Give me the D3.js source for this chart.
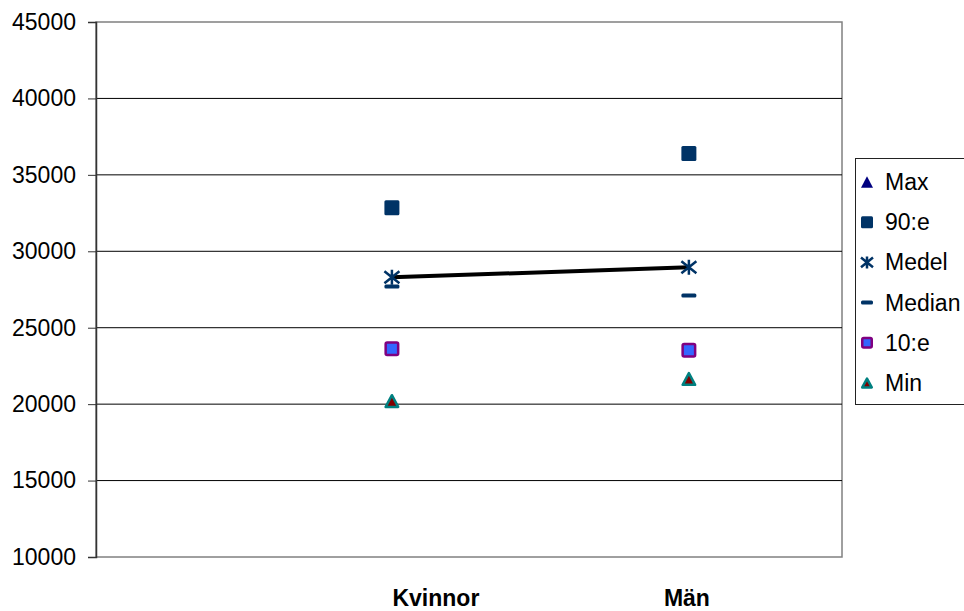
<!DOCTYPE html>
<html>
<head>
<meta charset="utf-8">
<script src="https://cdn.jsdelivr.net/npm/d3@7"></script>
<style>
  body { margin: 0; background: #fff; }
  svg { display: block; font-family: Arial, "Liberation Sans", sans-serif; }
</style>
</head>
<body>
<svg id="chart" width="964" height="611"></svg>
<script>
// data
const categories = ["Kvinnor", "Män"];
const maxVals = [null, null];           // not visible in the chart
const p90Vals = [32850, 36400];
const medelVals = [28300, 28950];
const medianVals = [27700, 27100];
const p10Vals = [23620, 23520];
const minVals = [20200, 21650];
const yTicks = [10000, 15000, 20000, 25000, 30000, 35000, 40000, 45000];

const series = [
  { name: "Max", values: maxVals, shape: "triangle", fill: "#000080", stroke: "#000080" },
  { name: "90:e", values: p90Vals, shape: "square", fill: "#003366", stroke: "#003366" },
  { name: "Medel", values: medelVals, shape: "star", fill: "none", stroke: "#003366" },
  { name: "Median", values: medianVals, shape: "dash", fill: "#003366", stroke: "none" },
  { name: "10:e", values: p10Vals, shape: "square", fill: "#3366ff", stroke: "#800080" },
  { name: "Min", values: minVals, shape: "triangle", fill: "#800000", stroke: "#008080" }
];

const svg = d3.select("#chart");
const plot = { left: 96, right: 842, top: 22, bottom: 557 };
const fontSize = 23;

const y = d3.scaleLinear().domain([10000, 45000]).range([plot.bottom, plot.top]);
const x = d3.scalePoint().domain(categories)
  .range([plot.left, plot.right]).padding(0.756).align(0.659);

// plot frame
svg.append("rect")
  .attr("x", plot.left).attr("y", plot.top)
  .attr("width", plot.right - plot.left).attr("height", plot.bottom - plot.top)
  .attr("fill", "none").attr("stroke", "#808080").attr("stroke-width", 1.5);

// gridlines
svg.append("g").selectAll("line")
  .data(yTicks.slice(1, -1))
  .join("line")
  .attr("x1", plot.left).attr("x2", plot.right)
  .attr("y1", d => y(d)).attr("y2", d => y(d))
  .attr("stroke", "#000").attr("stroke-width", 1);

// y axis
const yAxis = svg.append("g")
  .attr("transform", `translate(${plot.left},0)`)
  .call(d3.axisLeft(y).tickValues(yTicks).tickSize(8).tickPadding(12).tickFormat(d3.format("d")));
yAxis.select(".domain").attr("stroke", "#333").attr("stroke-width", 1.5);
yAxis.selectAll(".tick line").attr("stroke", "#333");
yAxis.selectAll("text").attr("font-size", fontSize).attr("fill", "#000")
  .attr("font-family", "Arial, 'Liberation Sans', sans-serif");

// category labels
const labelShift = { "Kvinnor": 44, "Män": -2 };
svg.append("g").selectAll("text")
  .data(categories)
  .join("text")
  .attr("x", d => x(d) + labelShift[d])
  .attr("y", 606)
  .attr("text-anchor", "middle")
  .attr("font-size", fontSize).attr("font-weight", "bold")
  .text(d => d);

// line through Medel
const line = d3.line().x((d, i) => x(categories[i])).y(d => y(d));
svg.append("path")
  .datum(medelVals)
  .attr("d", line)
  .attr("fill", "none").attr("stroke", "#000").attr("stroke-width", 4);

function drawMarker(g, shape, fill, stroke, s) {
  if (shape === "square") {
    const sw = stroke === fill ? 0 : 2.5;
    g.append("rect")
      .attr("x", -s / 2 + sw / 2).attr("y", -s / 2 + sw / 2)
      .attr("width", s - sw).attr("height", s - sw)
      .attr("rx", 1.5)
      .attr("fill", fill).attr("stroke", sw ? stroke : "none").attr("stroke-width", sw);
  } else if (shape === "triangle") {
    const h = s * 0.95;
    const sw = stroke === fill ? 0 : 2.5;
    g.append("path")
      .attr("d", `M0,${-h / 2 + sw / 2}L${s / 2 - sw / 2},${h / 2 - sw / 2}L${-s / 2 + sw / 2},${h / 2 - sw / 2}Z`)
      .attr("fill", fill).attr("stroke", sw ? stroke : "none").attr("stroke-width", sw)
      .attr("stroke-linejoin", "round");
  } else if (shape === "star") {
    const r = s / 2;
    g.append("path")
      .attr("d", `M0,${-r}V${r}M${-r},${-r * 0.8}L${r},${r * 0.8}M${-r},${r * 0.8}L${r},${-r * 0.8}`)
      .attr("fill", "none").attr("stroke", stroke).attr("stroke-width", 2.5);
  } else if (shape === "dash") {
    g.append("rect")
      .attr("x", -s / 2).attr("y", -2).attr("width", s).attr("height", 4).attr("rx", 1.5)
      .attr("fill", fill);
  }
}

// markers (drawn with Max on top, like the original order)
series.slice().reverse().forEach(sr => {
  sr.values.forEach((v, i) => {
    if (v == null) return;
    const g = svg.append("g")
      .attr("transform", `translate(${x(categories[i])},${y(v)})`);
    drawMarker(g, sr.shape, sr.fill, sr.stroke, 15);
  });
});

// legend
const legend = svg.append("g");
legend.append("rect")
  .attr("x", 855.5).attr("y", 158.5).attr("width", 120).attr("height", 246)
  .attr("fill", "#fff").attr("stroke", "#222").attr("stroke-width", 1);
const item = legend.selectAll("g.item")
  .data(series)
  .join("g").attr("class", "item")
  .attr("transform", (d, i) => `translate(867,${182 + i * 40.2})`);
item.each(function (d) {
  drawMarker(d3.select(this), d.shape, d.fill, d.stroke, 12);
});
item.append("text")
  .attr("x", 18).attr("y", 8)
  .attr("font-size", fontSize)
  .text(d => d.name);
</script>
</body>
</html>
